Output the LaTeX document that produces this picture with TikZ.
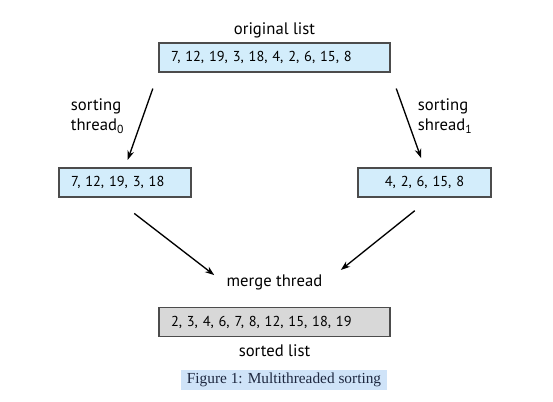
\documentclass[tikz,border=0pt]{standalone}
\usepackage{fontspec}
\setmainfont{PT Sans}
\newfontfamily\captionfont{Liberation Serif}
\usetikzlibrary{positioning}
\usetikzlibrary{arrows.meta}

\definecolor{listblue}{HTML}{D3EDFB}
\definecolor{listgray}{HTML}{D8D8D8}
\definecolor{capblue}{HTML}{CFE3F8}
\definecolor{capink}{HTML}{1E2840}

\newcommand\listgap{\spaceskip 0.2em\relax}

\tikzset{
  listbox/.style={draw=black!70,line width=0.8pt,minimum height=29*0.75pt,inner xsep=12*0.75pt,inner ysep=0pt,
                  font=\fontsize{10.8}{13}\selectfont\listgap},
  tag/.style={inner sep=2pt,font=\fontsize{12.5}{15}\selectfont},
  flow/.style={-{Stealth[length=7pt,width=5pt]},line width=1pt}
}

\begin{document}
\begin{tikzpicture}[x=0.75pt,y=-0.75pt]
 \useasboundingbox (0,0) rectangle (553,401);

 \node[listbox,fill=listblue,text width=207*0.75pt,align=left, name=orig]    at (274.5,57.5) {7, 12, 19, 3, 18, 4, 2, 6, 15, 8};
 \node[listbox,fill=listblue,text width=108*0.75pt,align=left, name=half0]   at (125,182.5)  {7, 12, 19, 3, 18};
 \node[listbox,fill=listblue,text width=109*0.75pt,align=center,name=half1]  at (424.5,182.5) {4, 2, 6, 15, 8};
 \node[listbox,fill=listgray,text width=207*0.75pt,align=left, name=sorted]  at (274.5,322)  {2, 3, 4, 6, 7, 8, 12, 15, 18, 19};

 \node[tag,above=2*0.75pt of orig,          name=origtag]   {original list};
 \node[tag,below=5*0.75pt of sorted,        name=sortedtag] {sorted list};
 \node[tag,above=14*0.75pt of sorted,       name=merge]     {merge thread};
 \node[tag,align=left,anchor=west,          name=sort0]     at (68,116)  {sorting\\thread\textsubscript{0}};
 \node[tag,align=left,anchor=west,          name=sort1]     at (415,116) {sorting\\shread\textsubscript{1}};

 \draw[flow,shorten <=17*0.75pt,shorten >=8*0.75pt]  (orig.south west) -- (half0.north) ;
 \draw[flow,shorten <=17*0.75pt,shorten >=10*0.75pt] (orig.south east) -- (half1.north) ;
 \draw[flow,shorten <=26*0.75pt,shorten >=12*0.75pt] (half0.-127)      -- (merge.west) ;
 \draw[flow,shorten <=21*0.75pt,shorten >=20*0.75pt] (half1.-66)       -- (merge.east) ;

 \node[fill=capblue,text=capink,minimum width=206*0.75pt,minimum height=20*0.75pt,inner sep=0pt,
       font=\captionfont\fontsize{11.5}{13}\selectfont,name=caption] at (284,380) {Figure 1: Multithreaded sorting};
\end{tikzpicture}
\end{document}
